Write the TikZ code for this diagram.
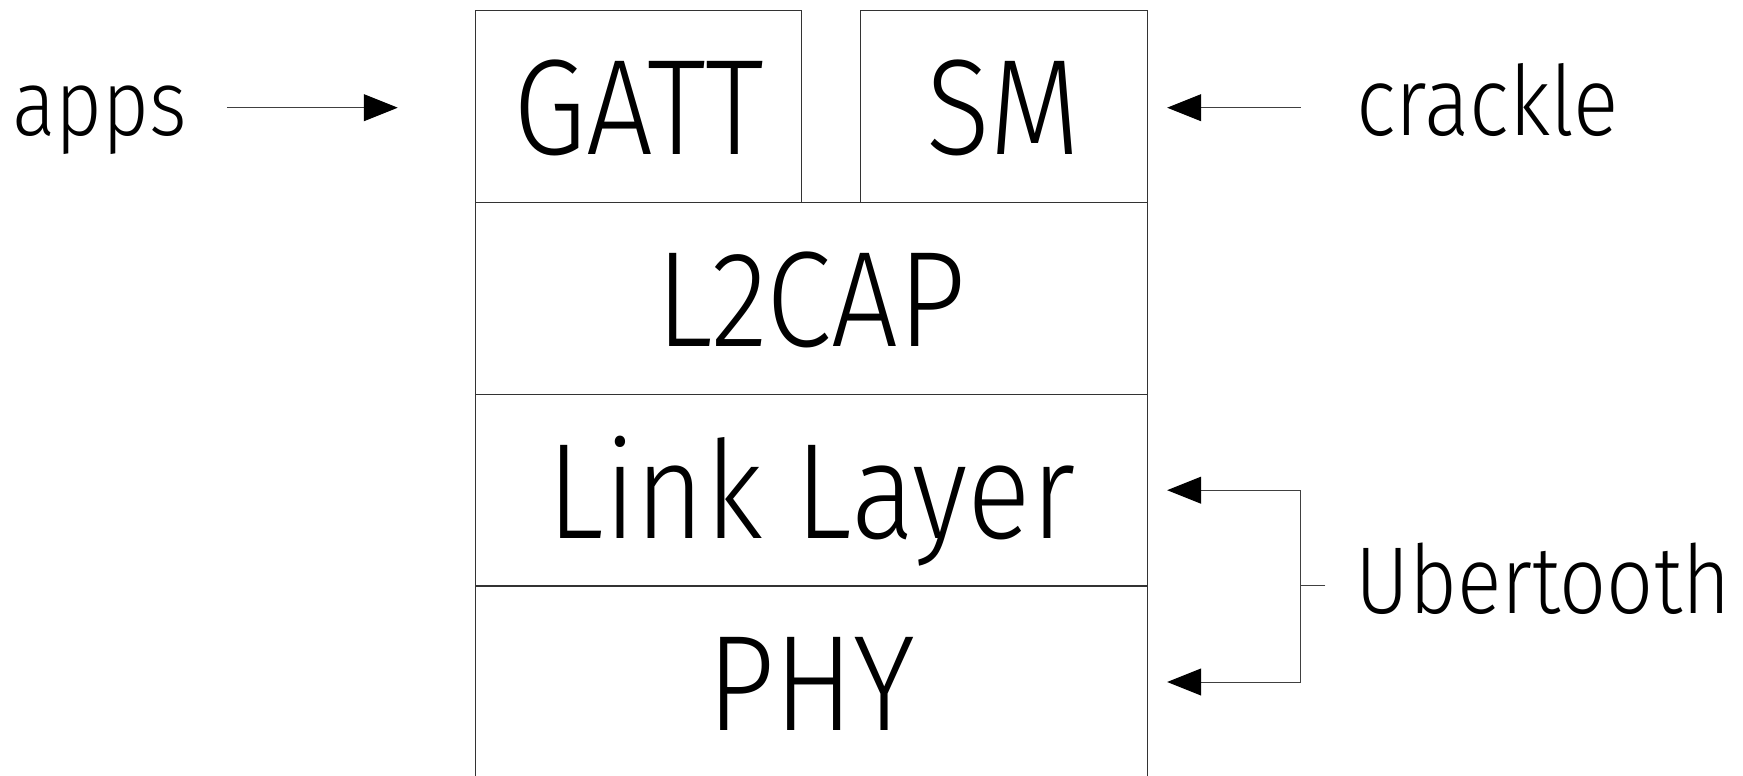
\documentclass[tikz,border=0pt]{standalone}
\usepackage{fontspec}
\usetikzlibrary{arrows.meta,calc}
\newfontfamily\labfont{Fira Sans Light}[FakeStretch=0.87]
\begin{document}
\begin{tikzpicture}[x=1pt,y=-1pt,
  layerbox/.style={draw=black!80,line width=1.2pt,inner sep=0pt,outer sep=0pt,
    font=\labfont\fontsize{136}{140}\selectfont,text height=96pt,text depth=0pt,
    minimum height=192pt},
  sidelabel/.style={font=\labfont\fontsize{97}{100}\selectfont,anchor=base,inner sep=0pt},
  conn/.style={draw=black!75,line width=1pt},
  arr/.style={conn,-{Triangle[length=34pt,width=27pt,color=black]}}]
\useasboundingbox (0,0) rectangle (1743,776);
\clip (0,0) rectangle (1743,776);
\node[layerbox,minimum width=325.7pt] (gatt) at (638.6,106.7) {GATT};
\node[layerbox,minimum width=286.8pt] (sm) at (1003.8,106.7) {SM};
\node[layerbox,minimum width=671.4pt] (l2cap) at (811.5,298.4) {L2CAP};
\node[layerbox,minimum width=671.4pt] (link) at (811.5,490.2) {Link Layer};
\node[layerbox,minimum width=671.4pt] (phy) at (811.5,682.0) {PHY};
\node[sidelabel,font=\labfont\fontsize{93}{96}\selectfont] (apps) at (100,135.6) {apps};
\node[sidelabel] (crackle) at (1487.6,135.6) {crackle};
\node[sidelabel,font=\labfont\fontsize{95}{98}\selectfont] (uber) at (1543,613.6) {Ubertooth};
\draw[arr] ($(gatt.west)+(-249,1)$) -- ($(gatt.west)+(-78,1)$);
\draw[arr] ($(sm.east)+(153.4,1)$) -- ($(sm.east)+(20,1)$);
\coordinate (ub) at (1300.6,585.8);
\draw[conn] ($(uber.west |- ub)+(-30,0)$) -- (ub);
\draw[arr] (ub) |- ($(link.east)+(20,0)$);
\draw[arr] (ub) |- ($(phy.east)+(20,0)$);
\end{tikzpicture}
\end{document}
